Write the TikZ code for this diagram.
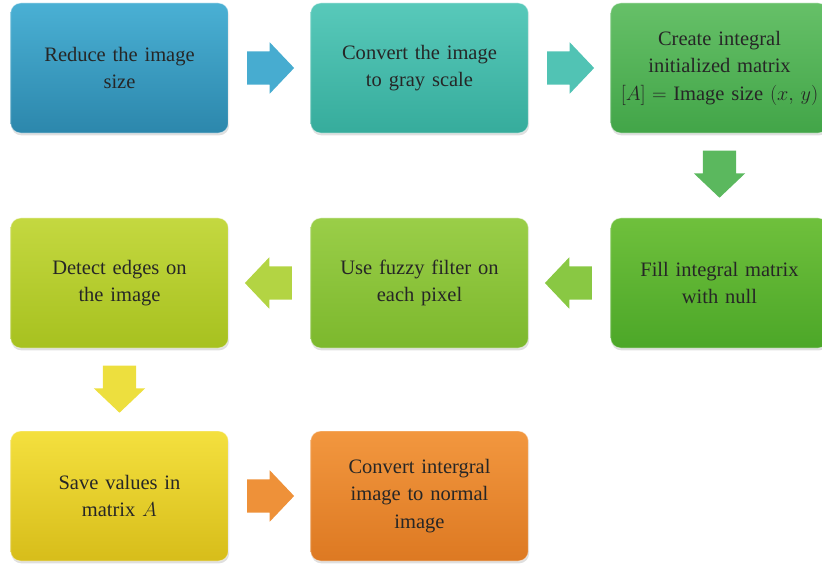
\documentclass[tikz,border=0pt]{standalone}
\usepackage{fontspec}
\setmainfont{Liberation Serif}
\usetikzlibrary{positioning, shapes.arrows, shadows}
\definecolor{BlueTop}{HTML}{4AB0D4}
\definecolor{BlueBot}{HTML}{2C87AC}
\definecolor{TealTop}{HTML}{58C9BA}
\definecolor{TealBot}{HTML}{36AC9C}
\definecolor{GreenTop}{HTML}{66C068}
\definecolor{GreenBot}{HTML}{42A548}
\definecolor{LeafTop}{HTML}{6FC03C}
\definecolor{LeafBot}{HTML}{4CA728}
\definecolor{LimeTop}{HTML}{9ACE48}
\definecolor{LimeBot}{HTML}{7CB82D}
\definecolor{OliveTop}{HTML}{C4D840}
\definecolor{OliveBot}{HTML}{A7C11F}
\definecolor{YellowTop}{HTML}{F4E03E}
\definecolor{YellowBot}{HTML}{D7BD1A}
\definecolor{OrangeTop}{HTML}{F2973F}
\definecolor{OrangeBot}{HTML}{DD7922}

\begin{document}
\begin{tikzpicture}[x=0.03cm, y=-0.03cm,
		box/.style={rounded corners=0.3cm, minimum width=6.45cm, minimum height=3.9cm,
			text width=6.3cm, align=center, text=black!85,
			font=\fontsize{17.5}{23.5}\selectfont,
			draw=white, draw opacity=0.45, line width=0.8pt,
			drop shadow={shadow xshift=0.6pt, shadow yshift=-2pt, opacity=0.25}},
		blockarrow/.style={single arrow, minimum height=1.41cm,
			single arrow head extend=0.27cm, single arrow tip angle=93},
		harrow/.style={blockarrow, inner xsep=0.1cm, inner ysep=0.495cm},
		varrow/.style={blockarrow, inner xsep=0.495cm, inner ysep=0.1cm}]
	
	\useasboundingbox (0,0) rectangle (822,567);
	
	% first row
	\node[box, top color=BlueTop, bottom color=BlueBot] (reduce) at (119.5,68) {Reduce the image\\size};
	\node[box, top color=TealTop, bottom color=TealBot] (gray) at (419.5,68) {Convert the image\\to gray scale};
	\node[box, top color=GreenTop, bottom color=GreenBot] (create) at (719.5,68) {Create integral\\initialized matrix\\$[A]={}$Image size $(x,\,y)$};
	
	% second row
	\node[box, top color=LeafTop, bottom color=LeafBot] (fill) at (719.5,283) {Fill integral matrix\\with null};
	\node[box, top color=LimeTop, bottom color=LimeBot] (fuzzy) at (419.5,283) {Use fuzzy filter on\\each pixel};
	\node[box, top color=OliveTop, bottom color=OliveBot] (edges) at (119.5,283) {Detect edges on\\the image};
	
	% third row
	\node[box, top color=YellowTop, bottom color=YellowBot] (save) at (119.5,496) {Save values in\\matrix $A$};
	\node[box, top color=OrangeTop, bottom color=OrangeBot] (normal) at (419.5,496) {Convert intergral\\image to normal\\image};
	
	% arrows between the boxes
	\node[harrow, fill=BlueTop!90!BlueBot, right=0.54cm of reduce] (a1) {};
	\node[harrow, fill=TealTop!80!TealBot, right=0.54cm of gray] (a2) {};
	\node[varrow, shape border rotate=270, fill=GreenTop!70!GreenBot, below=0.51cm of create] (a3) {};
	\node[harrow, shape border rotate=180, fill=LeafTop!40!LimeTop, left=0.54cm of fill] (a4) {};
	\node[harrow, shape border rotate=180, fill=LimeTop!40!OliveTop, left=0.54cm of fuzzy] (a5) {};
	\node[varrow, shape border rotate=270, fill=YellowTop!85!OliveTop, below=0.51cm of edges] (a6) {};
	\node[harrow, fill=OrangeTop!80!OrangeBot, right=0.54cm of save] (a7) {};
	
\end{tikzpicture}
\end{document}
